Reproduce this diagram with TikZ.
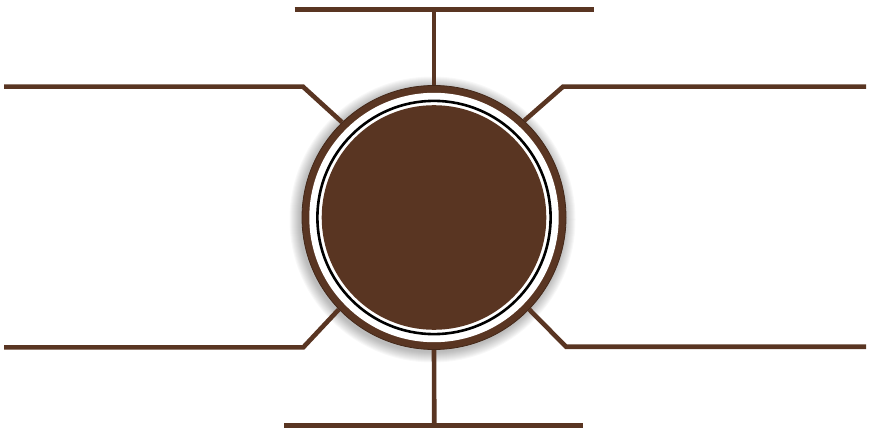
\documentclass[tikz,border=0pt]{standalone}
\usetikzlibrary{backgrounds}
\definecolor{brn}{RGB}{89,53,34}
\begin{document}
\begin{tikzpicture}[x=1pt,y=-1pt,
  conn/.style={draw=brn, line width=4.6pt},
  ring/.style={circle, minimum size=264pt, inner sep=0pt, fill=brn, draw=brn!75!black, line width=0.8pt}]
\useasboundingbox (0,0) rectangle (873,433);
\node[ring] (c) at (434,217.5) {};
\fill[white] (c.center) circle (124.7);
\draw[black, line width=2.6pt] (c.center) circle (116.6);
\fill[brn] (c.center) circle (112.3);
% end points
\coordinate (tm) at (434,9.7);
\coordinate (tl) at (294.5,9.7);
\coordinate (tr) at (594.3,9.7);
\coordinate (bm) at (434.3,425.5);
\coordinate (bl) at (284.3,425.5);
\coordinate (br) at (582.7,425.5);
\coordinate (tlc) at (303,86.7);
\coordinate (tle) at (4,86.7);
\coordinate (trc) at (563,86.7);
\coordinate (tre) at (866,86.7);
\coordinate (blc) at (303.3,347.3);
\coordinate (ble) at (4,347.3);
\coordinate (brc) at (566,346.7);
\coordinate (bre) at (866,346.7);
\begin{scope}[on background layer]
  \foreach \i in {1,...,11} {
    \fill[black, opacity=0.028] (c.center) ++(-1.5,2) circle ({132+\i});
  }
  \draw[conn] (c.north) -- (tm);
  \draw[conn] (tl) -- (tr);
  \draw[conn] (c.south) -- (bm);
  \draw[conn] (bl) -- (br);
  \draw[conn] (c.134) -- (tlc) -- (tle);
  \draw[conn] (c.47) -- (trc) -- (tre);
  \draw[conn] (c.224) -- (blc) -- (ble);
  \draw[conn] (c.316) -- (brc) -- (bre);
\end{scope}
\end{tikzpicture}
\end{document}
